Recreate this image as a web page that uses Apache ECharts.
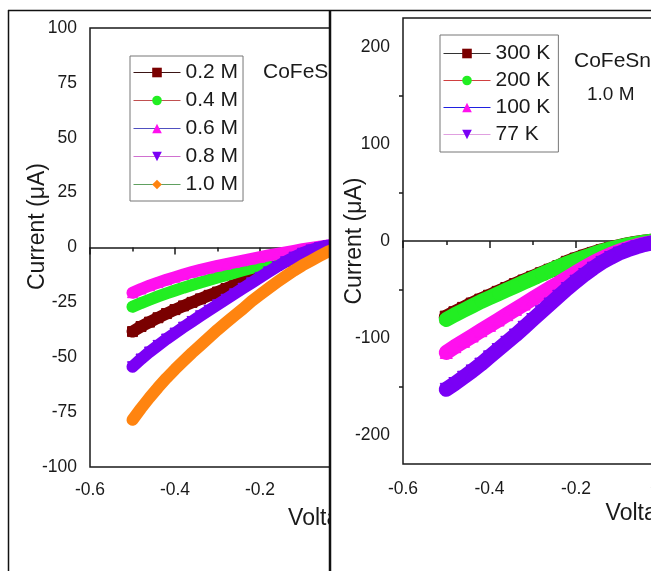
<!DOCTYPE html>
<html><head><meta charset="utf-8">
<script src="https://cdn.jsdelivr.net/npm/echarts@6/dist/echarts.min.js"></script>
<style>
html,body{margin:0;padding:0;background:#fff;width:651px;height:571px;overflow:hidden;position:relative}
#wrapL{position:absolute;left:0;top:0;width:330px;height:571px;overflow:hidden}
#wrapR{position:absolute;left:330px;top:0;width:321px;height:571px;overflow:hidden}
#chartL,#chartR{width:700px;height:571px}
</style></head><body>
<div id="wrapL"><div id="chartL"></div></div>
<div id="wrapR"><div id="chartR"></div></div>
<script>
// ---------- data ----------
const voltage = [-0.50,-0.48,-0.46,-0.44,-0.42,-0.40,-0.38,-0.36,-0.34,-0.32,-0.30,-0.28,-0.26,-0.24,-0.22,-0.20,-0.18,-0.16,-0.14,-0.12,-0.10,-0.08,-0.06,-0.04,-0.02,0.00];

const concLabels = ['0.2 M','0.4 M','0.6 M','0.8 M','1.0 M'];
const conc02 = [-38.3,-36.0,-34.0,-32.0,-30.1,-28.3,-26.6,-25.0,-23.4,-21.8,-20.3,-18.7,-17.1,-15.5,-13.7,-11.9,-10.0,-8.1,-6.3,-4.6,-3.1,-1.8,-0.7,0.2,0.8,1.2];
const conc04 = [-27.0,-25.3,-23.8,-22.3,-20.9,-19.6,-18.3,-17.1,-15.9,-14.8,-13.7,-12.6,-11.5,-10.4,-9.3,-8.2,-7.1,-6.0,-4.9,-3.8,-2.8,-1.8,-0.9,-0.1,0.5,0.9];
const conc06 = [-20.6,-18.9,-17.4,-16.0,-14.7,-13.5,-12.3,-11.2,-10.2,-9.3,-8.4,-7.6,-6.8,-6.0,-5.2,-4.4,-3.6,-2.9,-2.2,-1.5,-0.8,-0.2,0.4,0.9,1.3,1.6];
const conc08 = [-54.3,-50.8,-47.6,-44.6,-41.7,-39.0,-36.3,-33.7,-31.1,-28.6,-26.1,-23.6,-21.1,-18.6,-16.1,-13.6,-11.1,-8.7,-6.5,-4.4,-2.6,-1.1,0.0,0.8,1.3,1.6];
const conc10 = [-78.5,-73.3,-68.4,-63.8,-59.5,-55.5,-51.7,-48.0,-44.5,-41.0,-37.5,-34.2,-31.0,-27.9,-24.5,-21.5,-18.6,-15.8,-13.1,-10.5,-8.1,-6.0,-3.9,-1.9,-0.4,0.6];

const tempLabels = ['300 K','200 K','100 K','77 K'];
const temp300 = [-78.5,-74,-69.5,-65,-61,-57,-53,-49,-45,-41.3,-37.5,-33.8,-30.2,-26.5,-22,-18.7,-15.7,-12.8,-10.1,-7.7,-5.7,-3.8,-2.3,-1.0,0,0.5];
const temp200 = [-81,-76,-71.5,-67,-62.5,-58.5,-54.5,-50.5,-46.5,-42.5,-38.5,-34.5,-30.5,-26.5,-23,-19.5,-16.5,-13.5,-10.5,-8,-6,-4,-2.5,-1,0,0.5];
const temp100 = [-115,-109,-103.5,-98,-92.5,-87,-81.5,-76,-70.5,-65,-59.5,-54,-48.5,-43.5,-38,-32.5,-27.5,-22.5,-18,-14,-10.5,-7.5,-5,-3,-1.5,-0.5];
const temp77 = [-153,-147,-140.5,-134,-127,-119.5,-112,-104.5,-97,-89,-81,-73,-65,-57,-49,-41.5,-34.5,-28,-22,-17,-12.5,-9,-6,-3.5,-1.5,0];

const rightYTicks = [-200,-100,0,100,200];
const rightYMinor = [-150,-50,50,150];

// ---------- styles ----------
const FONT = 'Arial, "Liberation Sans", sans-serif';
const INK = '#1a1a1a';
const DOWN_TRI = 'path://M0,0 L10,0 L5,9 Z';
const concSymbols = ['rect','circle','triangle',DOWN_TRI,'diamond'];
const concColors = ['#7a0000','#22ee22','#ff10ee','#7a00f5','#ff8410'];
const concLegendLines = ['#3a1515','#c05050','#5050c0','#d070d0','#60a060'];
const tempSymbols = ['rect','circle','triangle',DOWN_TRI];
const tempColors = ['#7a0000','#22ee22','#ff10ee','#7a00f5'];
const tempLegendLines = ['#333333','#d04040','#2020e0','#e0a0e0'];

function xAxisCfg(labelMargin, nameGap){
  return {
    type:'value', min:-0.6, max:0.6, interval:0.2,
    name:'Voltage (V)', nameLocation:'middle', nameGap:nameGap, nameMoveOverlap:false,
    nameTextStyle:{fontFamily:FONT,fontSize:23,color:INK},
    axisLine:{show:true,lineStyle:{color:INK,width:1.5}},
    axisTick:{show:true,inside:false,length:7,lineStyle:{color:INK,width:1.5}},
    minorTick:{show:true,splitNumber:2,length:4,lineStyle:{color:INK,width:1.5}},
    axisLabel:{margin:labelMargin,fontFamily:FONT,fontSize:17.5,color:INK,
      formatter:v=>Math.abs(v)<1e-9?'0.0':v.toFixed(1)},
    splitLine:{show:false}, minorSplitLine:{show:false}
  };
}

function makeSeries(labels, arrays, symbols, colors, symSize, lw){
  return labels.map((name,i)=>({
    name:name, type:'line', z:2+i,
    data: voltage.map((v,k)=>[v, arrays[i][k]]),
    symbol: symbols[i], symbolSize: symSize, showAllSymbol:true,
    itemStyle:{color:colors[i], borderColor:colors[i], borderWidth:1, opacity:1},
    lineStyle:{color:colors[i], width:lw, opacity:1, join:'round', cap:'round'},
    emphasis:{disabled:true},
    clip:true, animation:false
  }));
}

function legendCfg(labels, colors, lines, left, top, gap, pad){
  return {
    left:left, top:top, orient:'vertical', itemGap:gap, itemWidth:47, itemHeight:12,
    padding:pad, backgroundColor:'#fff', borderColor:'#777', borderWidth:1,
    textStyle:{fontFamily:FONT,fontSize:21,lineHeight:21,color:INK},
    itemTextGap:5,
    data: labels.map((n,i)=>({name:n, itemStyle:{color:colors[i], borderWidth:0}, lineStyle:{color:lines[i],width:1,cap:'butt'}}))
  };
}

// ---------- left chart ----------
const chartL = echarts.init(document.getElementById('chartL'), null, {renderer:'canvas'});
chartL.setOption({
  animation:false,
  backgroundColor:'#fff',
  grid:{left:90, top:28, width:510, height:439, show:true, borderColor:INK, borderWidth:1.5, containLabel:false, outerBoundsMode:'none'},
  xAxis: xAxisCfg(14, 40),
  yAxis:{
    type:'value', min:-100, max:100, interval:25,
    name:'Current (\u03bcA)', nameLocation:'middle', nameGap:41, nameMoveOverlap:false,
    nameTextStyle:{fontFamily:FONT,fontSize:23,color:INK,padding:[0,0,0,42]},
    axisLine:{show:true,lineStyle:{color:INK,width:1.5}},
    axisTick:{show:true,length:8,lineStyle:{color:INK,width:1.5}},
    minorTick:{show:true,splitNumber:2,length:4,lineStyle:{color:INK,width:1.5}},
    axisLabel:{margin:13,fontFamily:FONT,fontSize:17.5,color:INK},
    splitLine:{show:false}
  },
  legend: legendCfg(concLabels, concColors, concLegendLines, 130, 56, 7, [6,5,6,3]),
  series: makeSeries(concLabels,[conc02,conc04,conc06,conc08,conc10],concSymbols,concColors,10,12),
  graphic:[
    {type:'line',shape:{x1:8.5,y1:10,x2:8.5,y2:571},style:{stroke:'#111',lineWidth:1.5},z:100},
    {type:'line',shape:{x1:8,y1:10.5,x2:330,y2:10.5},style:{stroke:'#111',lineWidth:1.5},z:100},
    {type:'line',shape:{x1:329.5,y1:10,x2:329.5,y2:571},style:{stroke:'#111',lineWidth:1.5},z:100},
    {type:'text',left:263,top:62,style:{text:'CoFeSn',fontFamily:FONT,fontSize:21,fill:INK},z:100}
  ]
});

// ---------- right chart ----------
const chartR = echarts.init(document.getElementById('chartR'), null, {renderer:'canvas'});
chartR.setOption({
  animation:false,
  backgroundColor:'#fff',
  grid:{left:73, top:18, width:519, height:446, show:true, borderColor:INK, borderWidth:1.5, containLabel:false, outerBoundsMode:'none'},
  xAxis: xAxisCfg(16, 38),
  yAxis:[{
    type:'value', min:-230, max:230,
    name:'Current (\u03bcA)', nameLocation:'middle', nameGap:37, nameMoveOverlap:false,
    nameTextStyle:{fontFamily:FONT,fontSize:23,color:INK},
    axisLine:{show:true,lineStyle:{color:INK,width:1.5}},
    axisTick:{show:true,length:8,customValues:rightYTicks,lineStyle:{color:INK,width:1.5}},
    axisLabel:{margin:13,fontFamily:FONT,fontSize:17.5,color:INK,customValues:rightYTicks},
    splitLine:{show:false}
  },{
    type:'value', min:-230, max:230, position:'left', offset:0,
    axisLine:{show:false},
    axisTick:{show:true,length:4,customValues:rightYMinor,lineStyle:{color:INK,width:1.5}},
    axisLabel:{show:false,customValues:rightYMinor},
    splitLine:{show:false}
  }],
  legend: legendCfg(tempLabels, tempColors, tempLegendLines, 110, 35, 6, [8,8,7,3]),
  series: makeSeries(tempLabels,[temp300,temp200,temp100,temp77],tempSymbols,tempColors,12,15),
  graphic:[
    {type:'line',shape:{x1:0.5,y1:10,x2:0.5,y2:571},style:{stroke:'#111',lineWidth:1.5},z:100},
    {type:'line',shape:{x1:0,y1:10.5,x2:321,y2:10.5},style:{stroke:'#111',lineWidth:1.5},z:100},
    {type:'text',left:244,top:51,style:{text:'CoFeSn',fontFamily:FONT,fontSize:21,fill:INK},z:100},
    {type:'text',left:257,top:85,style:{text:'1.0 M',fontFamily:FONT,fontSize:19,fill:INK},z:100}
  ]
});
</script>
</body></html>
